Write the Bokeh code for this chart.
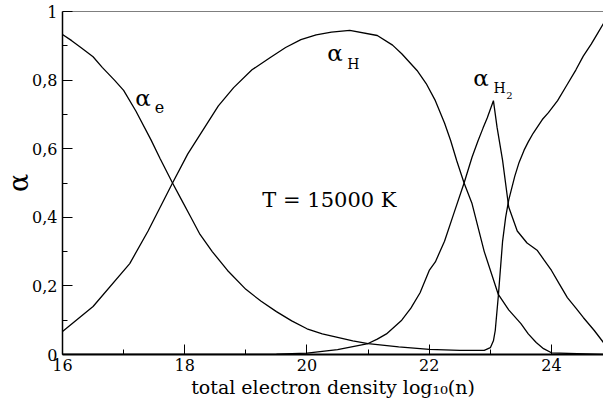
from bokeh.plotting import figure
from bokeh.models import FixedTicker, CustomJSTickFormatter, Label, Span, Range1d
from bokeh.embed import file_html
from bokeh.resources import INLINE

# ---- data ----
x_e = [16.0, 16.15, 16.3, 16.5, 16.65, 16.85, 17.0, 17.2, 17.45, 17.6, 17.8, 17.95, 18.1,
       18.25, 18.45, 18.7, 19.0, 19.25, 19.5, 19.75, 20.0, 20.25, 20.5, 20.75, 21.0, 21.5,
       22.0, 22.5, 22.9, 23.0, 23.05, 23.08, 23.13, 23.2, 23.25, 23.3, 23.4, 23.47, 23.55,
       23.62, 23.7, 23.85, 23.95, 24.1, 24.25, 24.4, 24.52, 24.65, 24.75, 24.85]
a_e = [0.933, 0.915, 0.895, 0.868, 0.837, 0.80, 0.77, 0.71, 0.625, 0.57, 0.50, 0.45, 0.40,
       0.35, 0.30, 0.245, 0.19, 0.155, 0.125, 0.098, 0.075, 0.06, 0.05, 0.04, 0.032, 0.022,
       0.015, 0.012, 0.012, 0.02, 0.04, 0.07, 0.17, 0.33, 0.40, 0.45, 0.52, 0.56, 0.595,
       0.62, 0.645, 0.685, 0.705, 0.74, 0.785, 0.83, 0.87, 0.905, 0.935, 0.965]

x_h = [16.0, 16.5, 17.1, 17.4, 17.8, 18.05, 18.3, 18.55, 18.8, 19.1, 19.4, 19.65, 19.9,
       20.15, 20.4, 20.7, 21.15, 21.4, 21.55, 21.8, 21.95, 22.1, 22.25, 22.35, 22.45, 22.57,
       22.7, 22.9, 23.13, 23.3, 23.5, 23.62, 23.75, 23.87, 24.0, 24.85]
a_h = [0.067, 0.14, 0.265, 0.36, 0.50, 0.585, 0.655, 0.725, 0.778, 0.83, 0.866, 0.895, 0.918,
       0.932, 0.94, 0.945, 0.93, 0.902, 0.877, 0.828, 0.79, 0.74, 0.675, 0.624, 0.565, 0.50,
       0.44, 0.30, 0.175, 0.13, 0.09, 0.06, 0.035, 0.017, 0.005, 0.0]

x_h2 = [16.0, 19.0, 19.5, 20.0, 20.5, 21.0, 21.15, 21.3, 21.55, 21.7, 21.85, 22.0, 22.1,
        22.25, 22.4, 22.57, 22.7, 22.8, 22.88, 22.95, 23.05, 23.11, 23.2, 23.3, 23.44, 23.6,
        23.68, 23.77, 23.88, 24.0, 24.13, 24.26, 24.4, 24.52, 24.7, 24.85]
a_h2 = [0.0, 0.0, 0.001, 0.004, 0.014, 0.032, 0.045, 0.06, 0.10, 0.135, 0.18, 0.245, 0.27,
        0.33, 0.41, 0.50, 0.575, 0.624, 0.66, 0.69, 0.74, 0.662, 0.566, 0.43, 0.36, 0.325,
        0.315, 0.303, 0.275, 0.245, 0.205, 0.166, 0.135, 0.108, 0.07, 0.035]

x_ticks = [16, 18, 20, 22, 24]
x_minor = [17, 19, 21, 23]
y_ticks = [0, 0.2, 0.4, 0.6, 0.8, 1.0]
y_minor = [0.1, 0.3, 0.5, 0.7, 0.9]

FONT = "DejaVu Serif"

p = figure(width=603, height=407, output_backend="svg", toolbar_location=None,
           x_range=Range1d(16, 24.851), y_range=Range1d(0, 1),
           min_border_left=60, min_border_right=0, min_border_top=11, min_border_bottom=53)
p.outline_line_color = None
p.grid.visible = False
p.background_fill_color = "white"
p.border_fill_color = "white"

for xs, ys in [(x_e, a_e), (x_h, a_h), (x_h2, a_h2)]:
    p.line(xs, ys, line_color="black", line_width=1.3)

p.xaxis.ticker = FixedTicker(ticks=x_ticks, minor_ticks=x_minor)
p.yaxis.ticker = FixedTicker(ticks=y_ticks, minor_ticks=y_minor)
p.yaxis.formatter = CustomJSTickFormatter(
    code="return (Math.round(tick*10)/10).toString().replace('.', ',');")

for ax in (p.xaxis[0], p.yaxis[0]):
    ax.major_tick_in = 10
    ax.major_tick_out = 0
    ax.minor_tick_in = 5
    ax.minor_tick_out = 0
    ax.major_tick_line_color = "black"
    ax.minor_tick_line_color = "black"
    ax.axis_line_color = "black"
    ax.major_label_text_font = FONT
    ax.major_label_text_font_size = "16px"
    ax.major_label_text_color = "black"
    ax.axis_label_text_font = FONT
    ax.axis_label_text_font_style = "normal"
    ax.axis_label_text_color = "black"
p.xaxis.axis_line_width = 2
p.yaxis.axis_line_width = 1.5
p.xaxis.major_label_standoff = 4
p.yaxis.major_label_standoff = 5

p.xaxis.axis_label = "total electron density log\u2081\u2080(n)"
p.xaxis.axis_label_text_font_size = "19px"
p.xaxis.axis_label_standoff = 2
p.yaxis.axis_label = "α"
p.yaxis.axis_label_text_font_size = "27px"
p.yaxis.axis_label_standoff = -5

p.add_layout(Span(location=1, dimension="width", line_color="black", line_width=1))


def lab(x, y, text, size):
    p.add_layout(Label(x=x, y=y, text=text, text_font=FONT, text_font_size=size,
                       text_align="left", text_baseline="alphabetic", text_color="black"))


# curve labels
lab(17.19, 0.749, "α", "23px")
lab(17.51, 0.723, "e", "16px")
lab(20.33, 0.878, "α", "23px")
lab(20.66, 0.848, "H", "14px")
lab(22.72, 0.805, "α", "23px")
lab(23.05, 0.778, "H", "14px")
lab(23.26, 0.755, "2", "10px")
lab(19.27, 0.449, "T = 15000 K", "21px")

open("out.html", "w").write(file_html(p, INLINE))
